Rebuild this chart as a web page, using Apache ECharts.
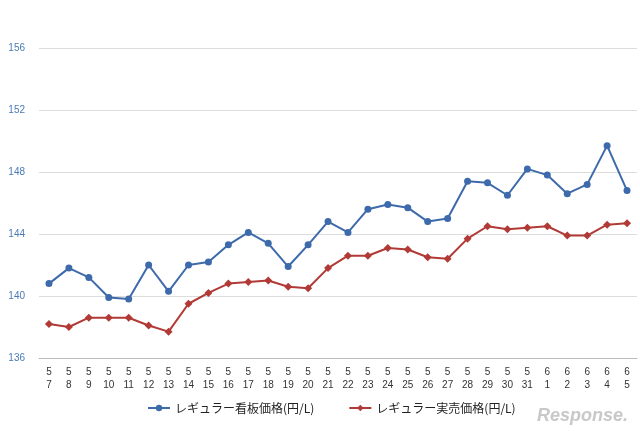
<!DOCTYPE html>
<html>
<head>
<meta charset="utf-8">
<script src="https://cdn.jsdelivr.net/npm/echarts@6/dist/echarts.min.js"></script>
<style>html,body{margin:0;padding:0;background:#fff}#chart{width:640px;height:439px}</style>
</head>
<body>
<div id="chart"></div>
<script>
const months = [5,5,5,5,5,5,5,5,5,5,5,5,5,5,5,5,5,5,5,5,5,5,5,5,5,6,6,6,6,6];
const days = [7,8,9,10,11,12,13,14,15,16,17,18,19,20,21,22,23,24,25,26,27,28,29,30,31,1,2,3,4,5];
const categories = months.map((m, i) => m + '\n' + days[i]);
const signPrice = [140.8,141.8,141.2,139.9,139.8,142.0,140.3,142.0,142.2,143.3,144.1,143.4,141.9,143.3,144.8,144.1,145.6,145.9,145.7,144.8,145.0,147.4,147.3,146.5,148.2,147.8,146.6,147.2,149.7,146.8];
const salePrice = [138.2,138.0,138.6,138.6,138.6,138.1,137.7,139.5,140.2,140.8,140.9,141.0,140.6,140.5,141.8,142.6,142.6,143.1,143.0,142.5,142.4,143.7,144.5,144.3,144.4,144.5,143.9,143.9,144.6,144.7];

const chart = echarts.init(document.getElementById('chart'));
chart.setOption({
    animation: false,
    grid: { left: 39, right: 3, top: 48, bottom: 81 },
    legend: {
        bottom: 20,
        left: 142,
        itemGap: 34,
        itemWidth: 22,
        itemHeight: 8,
        textStyle: { fontSize: 12, color: '#222', fontFamily: 'Noto Sans CJK JP' },
        data: ['レギュラー看板価格(円/L)', 'レギュラー実売価格(円/L)']
    },
    xAxis: {
        type: 'category',
        data: categories,
        boundaryGap: true,
        axisLine: { lineStyle: { color: '#bbb' } },
        axisTick: { show: false },
        axisLabel: { color: '#333', fontSize: 10, lineHeight: 13, interval: 0 }
    },
    yAxis: {
        type: 'value',
        min: 136, max: 156, interval: 4,
        axisLine: { show: false },
        axisTick: { show: false },
        axisLabel: { color: '#4a7ab5', fontSize: 10, margin: 14 },
        splitLine: { lineStyle: { color: '#dcdcdc' } }
    },
    series: [
        {
            name: 'レギュラー看板価格(円/L)', type: 'line', data: signPrice,
            symbol: 'circle', symbolSize: 7,
            itemStyle: { color: '#3d6aab' }, lineStyle: { width: 2, color: '#3d6aab' }
        },
        {
            name: 'レギュラー実売価格(円/L)', type: 'line', data: salePrice,
            symbol: 'diamond', symbolSize: 8,
            itemStyle: { color: '#b13a36' }, lineStyle: { width: 2, color: '#b13a36' }
        }
    ],
    graphic: [{
        type: 'text', right: 12, bottom: 14,
        style: { text: 'Response.', fill: '#c8c8c8', font: 'italic bold 18px sans-serif' }
    }]
});
</script>
</body>
</html>
